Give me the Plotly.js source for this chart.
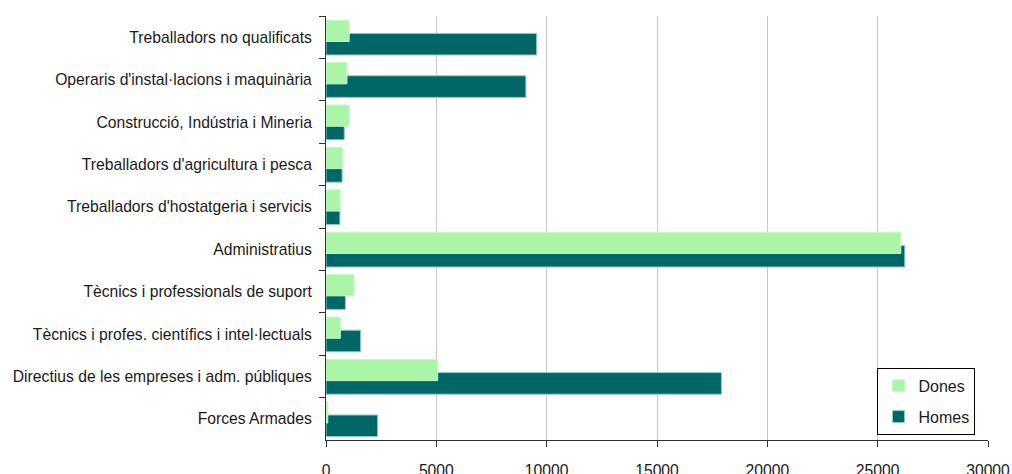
<!DOCTYPE html>
<html>
<head>
<meta charset="utf-8">
<script src="https://cdn.plot.ly/plotly-3.0.1.min.js"></script>
<style>html,body{margin:0;padding:0;background:#fff;}#chart{width:1012px;height:474px;}</style>
</head>
<body>
<div id="chart"></div>
<script>
const categories = [
  "Treballadors no qualificats",
  "Operaris d'instal·lacions i maquinària",
  "Construcció, Indústria i Mineria",
  "Treballadors d'agricultura i pesca",
  "Treballadors d'hostatgeria i servicis",
  "Administratius",
  "Tècnics i professionals de suport",
  "Tècnics i profes. científics i intel·lectuals",
  "Directius de les empreses i adm. públiques",
  "Forces Armades"
];
const dones = [1050, 950, 1050, 740, 640, 26050, 1270, 650, 5060, 80];
const homes = [9550, 9060, 830, 730, 630, 26230, 880, 1570, 17920, 2340];
const xTicks = [0, 5000, 10000, 15000, 20000, 25000, 30000];

const font = {family: "Liberation Sans, Arial, sans-serif", size: 15.7, color: "#1a1a1a"};

const traces = [
  {
    type: "bar", orientation: "h", name: "Homes", y: categories, x: homes,
    offset: -0.09, width: 0.51, legendgroup: "b", legendrank: 2,
    marker: {color: "#006666", line: {color: "#8fcccc", width: 1}},
    hoverinfo: "x+y"
  },
  {
    type: "bar", orientation: "h", name: "Dones", y: categories, x: dones,
    offset: -0.40, width: 0.50, legendgroup: "a", legendrank: 1,
    marker: {color: "#aaf5a8", line: {color: "#c6f8c4", width: 1}},
    hoverinfo: "x+y"
  }
];

const layout = {
  width: 1012, height: 474,
  margin: {l: 326, r: 24, t: 16, b: 34, pad: 0},
  barmode: "overlay",
  paper_bgcolor: "#ffffff", plot_bgcolor: "#ffffff",
  font: font,
  showlegend: true,
  legend: {
    x: 0.833, y: 0.17, xanchor: "left", yanchor: "top",
    bgcolor: "#ffffff", bordercolor: "#000000", borderwidth: 1,
    font: {family: font.family, size: 16, color: "#1a1a1a"},
    traceorder: "grouped", tracegroupgap: 7
  },
  xaxis: {
    range: [0, 30000], tickvals: xTicks, ticktext: xTicks.map(String),
    showgrid: true, gridcolor: "#c8c8c8", gridwidth: 1,
    zeroline: false, showline: true, linecolor: "#303030", linewidth: 1,
    ticks: "outside", ticklen: 6, tickcolor: "#303030",
    ticklabelstandoff: 10, fixedrange: true
  },
  yaxis: {
    type: "category", range: [9.5, -0.5],
    showline: true, linecolor: "#303030", linewidth: 1,
    ticks: "outside", ticklen: 6, tickcolor: "#303030",
    tickson: "boundaries", showgrid: false,
    ticklabelstandoff: 10, fixedrange: true
  }
};

Plotly.newPlot("chart", traces, layout, {displayModeBar: false, staticPlot: true});
</script>
</body>
</html>
